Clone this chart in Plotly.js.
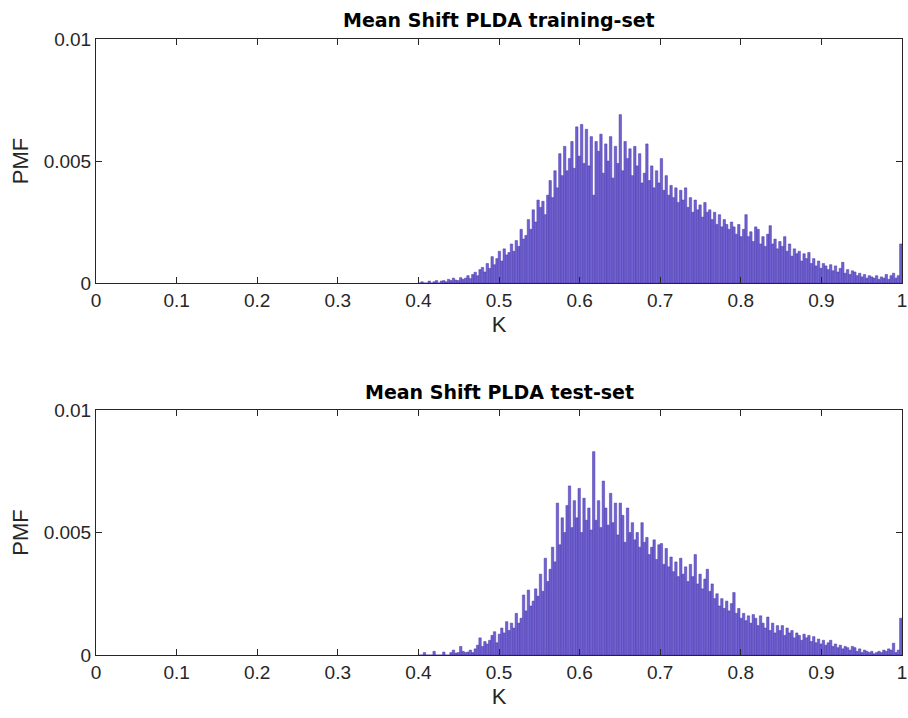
<!DOCTYPE html>
<html>
<head>
<meta charset="utf-8">
<script src="https://cdn.plot.ly/plotly-3.0.1.min.js"></script>
<style>html,body{margin:0;padding:0;background:#fff;}#chart{width:908px;height:718px;}</style>
</head>
<body>
<div id="chart"></div>
<script>
// Histogram bins: start of first bin and bin width (K axis)
const binStart = 0.400;
const binWidth = 0.003;

// PMF values (in units of 1e-3), training set
const pmfTrain = [
  0, 0.05, 0, 0, 0.08, 0, 0.05, 0.1, 0, 0.08,
  0.1, 0.05, 0.15, 0.1, 0.2, 0.12, 0.1, 0.22, 0.15, 0.2,
  0.3, 0.18, 0.35, 0.44, 0.3, 0.55, 0.64, 0.45, 0.8, 0.6,
  1.08, 0.75, 1.0, 1.3, 0.9, 1.4, 1.15, 1.25, 1.6, 1.3,
  1.74, 1.5, 2.2, 1.8, 1.95, 2.6, 2.2, 3.0, 2.5, 3.4,
  3.1, 3.35, 2.8, 3.6, 4.2, 3.5, 4.6, 3.9, 5.3, 4.4,
  5.6, 4.6, 5.1, 5.8, 4.7, 6.4, 5.2, 6.5, 4.9, 6.3,
  4.8, 6.0, 3.6, 5.8, 5.4, 6.1, 4.5, 5.7, 5.0, 6.0,
  4.3, 5.6, 4.9, 6.9, 4.6, 5.8, 5.1, 5.5, 4.4, 5.6,
  4.8, 5.3, 4.1, 4.5, 5.7, 4.2, 4.8, 3.9, 4.6, 4.1,
  5.1, 3.8, 4.4, 3.6, 4.0, 3.5, 3.9, 3.3, 3.8, 3.4,
  3.9, 3.1, 3.5, 2.9, 3.4, 3.0, 3.2, 2.7, 3.3, 2.9,
  3.0, 2.6, 2.9, 2.4, 2.8, 2.3, 2.6, 2.4, 2.2, 2.5,
  2.3, 2.0, 2.4, 1.9, 2.2, 2.8, 1.9, 2.1, 1.7, 2.3,
  2.2, 1.6, 1.9, 1.5, 2.0, 2.35, 1.6, 1.8, 1.4, 1.7,
  1.5, 1.9, 1.3, 1.6, 1.1, 1.4, 1.2, 1.3, 0.9, 1.2,
  1.0, 1.25, 0.8, 1.0, 0.7, 0.9, 0.6, 0.8, 0.7, 0.55,
  0.75, 0.5, 0.7, 0.45, 0.6, 0.85, 0.4, 0.55, 0.35, 0.5,
  0.45, 0.3, 0.4, 0.25, 0.35, 0.2, 0.3, 0.25, 0.2, 0.3,
  0.15, 0.25, 0.2, 0.35, 0.15, 0.3, 0.4, 0.2, 0.3, 1.6
];

// PMF values (in units of 1e-3), test set
const pmfTest = [
  0, 0, 0.1, 0, 0, 0, 0.15, 0, 0, 0,
  0.12, 0, 0, 0.1, 0.2, 0.08, 0.1, 0.35, 0.15, 0.1,
  0.12, 0.2, 0.1, 0.25, 0.4, 0.7, 0.35, 0.55, 0.45, 0.6,
  0.8, 0.95, 0.5, 0.85, 1.1, 0.9, 1.36, 1.0, 1.3, 1.1,
  1.7, 1.3, 1.5, 2.45, 1.8, 2.65, 2.0, 2.2, 2.7, 2.4,
  3.3, 2.6, 3.95, 3.0, 3.5, 4.4, 3.8, 6.2, 4.5, 5.6,
  5.0, 6.1, 6.9, 5.2, 6.3, 5.6, 6.8, 5.0, 6.4, 5.5,
  6.0, 5.1, 8.3, 5.5, 6.3, 5.2, 7.1, 6.0, 5.3, 6.6,
  5.4, 6.2, 4.9, 6.2, 5.7, 4.6, 6.0, 5.0, 5.4, 4.7,
  5.0, 4.4, 5.4, 4.6, 4.8, 4.1, 4.4, 4.7, 3.9, 4.5,
  4.55, 3.7, 4.35, 3.6, 4.0, 3.4, 3.8, 3.2, 3.95, 3.3,
  3.6, 3.0, 3.7, 3.2, 4.1, 2.9, 3.3, 2.7, 3.1, 3.5,
  2.6, 2.9, 2.3, 2.5, 2.0, 2.3, 1.9, 2.2, 1.8, 2.1,
  2.55, 1.7, 1.9, 1.5, 1.7, 1.4, 1.6, 1.3, 1.65, 1.5,
  1.2, 1.6, 1.3, 1.1, 1.55, 1.0, 1.3, 0.9, 1.2, 1.0,
  1.2, 0.8, 1.1, 0.9, 1.0, 0.7, 0.9, 0.8, 0.6, 0.85,
  0.7, 0.8, 0.55, 0.75, 0.5, 0.65, 0.45, 0.6, 0.4, 0.5,
  0.6, 0.35, 0.45, 0.3, 0.4, 0.25, 0.35, 0.3, 0.2, 0.35,
  0.3, 0.15, 0.25, 0.1, 0.2, 0.15, 0.1, 0.15, 0.05, 0.1,
  0.15, 0.1, 0.2, 0.15, 0.25, 0.2, 0.48, 0.1, 0.2, 1.5
];

const xTickVals = [0, 0.1, 0.2, 0.3, 0.4, 0.5, 0.6, 0.7, 0.8, 0.9, 1];
const xTickText = ['0', '0.1', '0.2', '0.3', '0.4', '0.5', '0.6', '0.7', '0.8', '0.9', '1'];
const yTickVals = [0, 5, 10];
const yTickText = ['0', '0.005', '0.01'];
const titles = ['Mean Shift PLDA training-set', 'Mean Shift PLDA test-set'];

function centers(n) {
  const c = [];
  for (let i = 0; i < n; i++) c.push(binStart + (i + 0.5) * binWidth);
  return c;
}

const barStyle = {
  color: 'rgb(112,98,208)',
  line: {color: 'rgb(72,54,172)', width: 0.5}
};

const traces = [
  {type: 'bar', x: centers(pmfTrain.length), y: pmfTrain, width: binWidth,
   marker: barStyle, xaxis: 'x', yaxis: 'y', hoverinfo: 'x+y'},
  {type: 'bar', x: centers(pmfTest.length), y: pmfTest, width: binWidth,
   marker: barStyle, xaxis: 'x2', yaxis: 'y2', hoverinfo: 'x+y'}
];

const tickFont = {family: 'Liberation Sans, Arial, sans-serif', size: 19, color: '#262626'};
const labelFont = {family: 'Liberation Sans, Arial, sans-serif', size: 22, color: '#262626'};

function xAxis(anchor) {
  return {
    anchor: anchor, range: [0, 1], domain: [0, 1],
    tickvals: xTickVals, ticktext: xTickText, ticks: 'inside', ticklen: 6, tickwidth: 1,
    tickcolor: '#262626', showline: true, linecolor: '#262626', linewidth: 1, mirror: 'ticks',
    showgrid: false, zeroline: false, tickfont: tickFont,
    title: {text: 'K', font: labelFont, standoff: 6}, automargin: false
  };
}
function yAxis(anchor, dom) {
  return {
    anchor: anchor, range: [0, 10], domain: dom,
    tickvals: yTickVals, ticktext: yTickText, ticks: 'inside', ticklen: 6, tickwidth: 1,
    tickcolor: '#262626', showline: true, linecolor: '#262626', linewidth: 1, mirror: 'ticks',
    showgrid: false, zeroline: false, tickfont: tickFont,
    title: {text: 'PMF', font: labelFont, standoff: 8}, automargin: false
  };
}

const H = 718;
const layout = {
  width: 908, height: 718,
  margin: {l: 96, r: 6, t: 0, b: 0},
  paper_bgcolor: '#ffffff', plot_bgcolor: '#ffffff',
  showlegend: false, bargap: 0,
  xaxis: xAxis('y'),
  yaxis: yAxis('x', [(H - 283) / H, (H - 39) / H]),
  xaxis2: xAxis('y2'),
  yaxis2: yAxis('x2', [(H - 655) / H, (H - 410) / H]),
  annotations: [
    {text: '<b>' + titles[0] + '</b>', xref: 'paper', yref: 'paper', x: 0.5, y: (H - 20) / H,
     xanchor: 'center', yanchor: 'middle', showarrow: false,
     font: {family: 'DejaVu Sans, sans-serif', size: 19, color: '#000'}},
    {text: '<b>' + titles[1] + '</b>', xref: 'paper', yref: 'paper', x: 0.5, y: (H - 392) / H,
     xanchor: 'center', yanchor: 'middle', showarrow: false,
     font: {family: 'DejaVu Sans, sans-serif', size: 19, color: '#000'}}
  ]
};

Plotly.newPlot('chart', traces, layout, {displayModeBar: false, staticPlot: true});
</script>
</body>
</html>
